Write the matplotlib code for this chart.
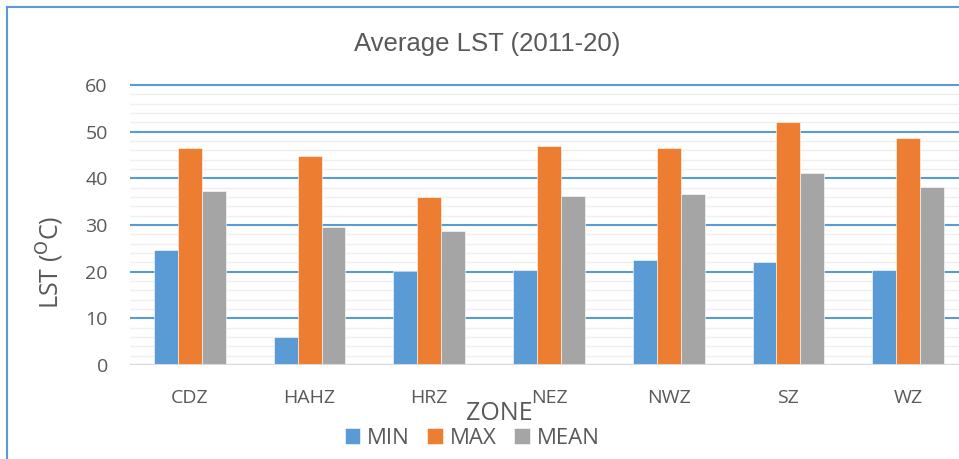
import matplotlib.pyplot as plt
import numpy as np
from matplotlib.lines import Line2D
from matplotlib.ticker import MultipleLocator

zones = ['CDZ', 'HAHZ', 'HRZ', 'NEZ', 'NWZ', 'SZ', 'WZ']
lst_min = [24.6, 5.9, 20.1, 20.3, 22.6, 22.0, 20.4]
lst_max = [46.6, 44.8, 36.1, 47.0, 46.6, 52.1, 48.7]
lst_mean = [37.3, 29.6, 28.8, 36.3, 36.6, 41.1, 38.1]

plt.rcParams['font.family'] = ['Open Sans', 'DejaVu Sans']
txt = '#595959'
W, H = 959, 459

fig = plt.figure(figsize=(W / 100, H / 100), dpi=100)
# extend the y range a touch so the 60 gridline is not clipped
ytop = 60.4
ax = fig.add_axes([130 / W, (H - 365) / H, 838 / W, 280 * ytop / 60 / H])

x = np.arange(len(zones))
w = 0.2
series = [('MIN', lst_min, '#5B9BD5'), ('MAX', lst_max, '#ED7D31'), ('MEAN', lst_mean, '#A5A5A5')]
for k, (name, vals, c) in enumerate(series):
    ax.bar(x + (k - 1) * w, vals, w, color=c, label=name, zorder=3,
           edgecolor='white', linewidth=0.4)

ax.set_xlim(-0.5, len(zones) - 0.5)
ax.set_ylim(0, ytop)
ax.set_yticks(range(0, 61, 10))
ax.yaxis.set_minor_locator(MultipleLocator(2))
ax.set_axisbelow(True)
ax.grid(axis='y', which='minor', color='#EFEFEF', lw=1.0)
ax.grid(axis='y', which='major', color='#5B9BD5', lw=1.5)
ax.axhline(0, color='#D9D9D9', lw=1.5, zorder=4)
for s in ax.spines.values():
    s.set_visible(False)
ax.tick_params(which='both', length=0)
ax.tick_params(axis='y', labelsize=14, labelcolor=txt, pad=16)
ax.tick_params(axis='x', labelsize=14, labelcolor=txt, pad=17)
ax.set_xticks(x)
ax.set_xticklabels(zones)

fig.text(487 / W, 1 - 44 / H, 'Average LST (2011-20)', ha='center', va='center',
         fontsize=18.5, color=txt, family='Liberation Sans')
fig.text(50 / W, 1 - 262 / H, r'LST ($^{\mathrm{O}}$C)', rotation=90, ha='center', va='center',
         fontsize=18, color=txt)
fig.text(499 / W, 1 - 414 / H, 'ZONE', ha='center', va='center', fontsize=18, color=txt)

fig.legend(loc='center', bbox_to_anchor=(472 / W, 1 - 438 / H), ncol=3, frameon=False,
           fontsize=16, labelcolor=txt, handlelength=0.7, handleheight=0.7,
           handletextpad=0.3, columnspacing=0.8, borderpad=0)

bc = '#5B9BD5'
fig.add_artist(Line2D([7 / W, 7 / W], [0, 1 - 7 / H], color=bc, lw=1.5, transform=fig.transFigure))
fig.add_artist(Line2D([7 / W, 1], [1 - 7 / H, 1 - 7 / H], color=bc, lw=1.5, transform=fig.transFigure))

fig.savefig('out.png', dpi=100)
